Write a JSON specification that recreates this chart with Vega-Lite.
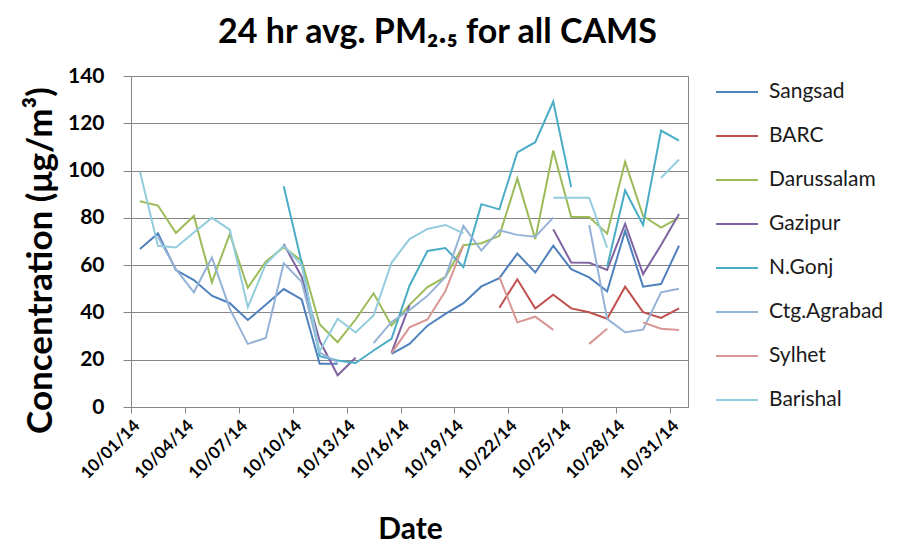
{
"$schema": "https://vega.github.io/schema/vega-lite/v6.json",
"width": 557, "height": 331,
"autosize": "none",
"padding": {"left": 131, "top": 76, "right": 211, "bottom": 150},
"background": "white",
"title": {"text": "24 hr avg. PM₂.₅ for all CAMS", "font": "Lato", "fontSize": 34, "fontWeight": "bold", "color": "#000000", "anchor": "middle", "dx": 28, "offset": 15},
"datasets": {
"pm": [
{"date":"2014-10-01","station":"Sangsad","pm":66.8},{"date":"2014-10-02","station":"Sangsad","pm":73.4},{"date":"2014-10-03","station":"Sangsad","pm":57.9},{"date":"2014-10-04","station":"Sangsad","pm":53.7},{"date":"2014-10-05","station":"Sangsad","pm":47.1},{"date":"2014-10-06","station":"Sangsad","pm":43.9},{"date":"2014-10-07","station":"Sangsad","pm":36.8},{"date":"2014-10-08","station":"Sangsad","pm":43.2},{"date":"2014-10-09","station":"Sangsad","pm":49.9},{"date":"2014-10-10","station":"Sangsad","pm":45.5},{"date":"2014-10-11","station":"Sangsad","pm":18.3},{"date":"2014-10-12","station":"Sangsad","pm":18.3},{"date":"2014-10-13","station":"Sangsad","pm":null},{"date":"2014-10-14","station":"Sangsad","pm":null},{"date":"2014-10-15","station":"Sangsad","pm":22.5},{"date":"2014-10-16","station":"Sangsad","pm":26.7},{"date":"2014-10-17","station":"Sangsad","pm":34.4},{"date":"2014-10-18","station":"Sangsad","pm":39.4},{"date":"2014-10-19","station":"Sangsad","pm":43.9},{"date":"2014-10-20","station":"Sangsad","pm":51},{"date":"2014-10-21","station":"Sangsad","pm":54.5},{"date":"2014-10-22","station":"Sangsad","pm":64.9},{"date":"2014-10-23","station":"Sangsad","pm":56.9},{"date":"2014-10-24","station":"Sangsad","pm":68.2},{"date":"2014-10-25","station":"Sangsad","pm":58.3},{"date":"2014-10-26","station":"Sangsad","pm":54.8},{"date":"2014-10-27","station":"Sangsad","pm":48.9},{"date":"2014-10-28","station":"Sangsad","pm":74.5},{"date":"2014-10-29","station":"Sangsad","pm":50.9},{"date":"2014-10-30","station":"Sangsad","pm":52},{"date":"2014-10-31","station":"Sangsad","pm":68.2},
{"date":"2014-10-01","station":"BARC","pm":null},{"date":"2014-10-02","station":"BARC","pm":null},{"date":"2014-10-03","station":"BARC","pm":null},{"date":"2014-10-04","station":"BARC","pm":null},{"date":"2014-10-05","station":"BARC","pm":null},{"date":"2014-10-06","station":"BARC","pm":null},{"date":"2014-10-07","station":"BARC","pm":null},{"date":"2014-10-08","station":"BARC","pm":null},{"date":"2014-10-09","station":"BARC","pm":null},{"date":"2014-10-10","station":"BARC","pm":null},{"date":"2014-10-11","station":"BARC","pm":null},{"date":"2014-10-12","station":"BARC","pm":null},{"date":"2014-10-13","station":"BARC","pm":null},{"date":"2014-10-14","station":"BARC","pm":null},{"date":"2014-10-15","station":"BARC","pm":null},{"date":"2014-10-16","station":"BARC","pm":null},{"date":"2014-10-17","station":"BARC","pm":null},{"date":"2014-10-18","station":"BARC","pm":null},{"date":"2014-10-19","station":"BARC","pm":null},{"date":"2014-10-20","station":"BARC","pm":null},{"date":"2014-10-21","station":"BARC","pm":42},{"date":"2014-10-22","station":"BARC","pm":54},{"date":"2014-10-23","station":"BARC","pm":41.6},{"date":"2014-10-24","station":"BARC","pm":47.5},{"date":"2014-10-25","station":"BARC","pm":41.7},{"date":"2014-10-26","station":"BARC","pm":40.1},{"date":"2014-10-27","station":"BARC","pm":37.3},{"date":"2014-10-28","station":"BARC","pm":50.9},{"date":"2014-10-29","station":"BARC","pm":40.1},{"date":"2014-10-30","station":"BARC","pm":37.7},{"date":"2014-10-31","station":"BARC","pm":41.7},
{"date":"2014-10-01","station":"Darussalam","pm":87},{"date":"2014-10-02","station":"Darussalam","pm":85.2},{"date":"2014-10-03","station":"Darussalam","pm":73.6},{"date":"2014-10-04","station":"Darussalam","pm":80.8},{"date":"2014-10-05","station":"Darussalam","pm":52.7},{"date":"2014-10-06","station":"Darussalam","pm":73.2},{"date":"2014-10-07","station":"Darussalam","pm":50.4},{"date":"2014-10-08","station":"Darussalam","pm":61.5},{"date":"2014-10-09","station":"Darussalam","pm":67.6},{"date":"2014-10-10","station":"Darussalam","pm":61.8},{"date":"2014-10-11","station":"Darussalam","pm":35},{"date":"2014-10-12","station":"Darussalam","pm":27.4},{"date":"2014-10-13","station":"Darussalam","pm":37},{"date":"2014-10-14","station":"Darussalam","pm":48.1},{"date":"2014-10-15","station":"Darussalam","pm":34.5},{"date":"2014-10-16","station":"Darussalam","pm":43.2},{"date":"2014-10-17","station":"Darussalam","pm":50.7},{"date":"2014-10-18","station":"Darussalam","pm":55},{"date":"2014-10-19","station":"Darussalam","pm":68.4},{"date":"2014-10-20","station":"Darussalam","pm":69.3},{"date":"2014-10-21","station":"Darussalam","pm":72.4},{"date":"2014-10-22","station":"Darussalam","pm":96.7},{"date":"2014-10-23","station":"Darussalam","pm":71},{"date":"2014-10-24","station":"Darussalam","pm":108.5},{"date":"2014-10-25","station":"Darussalam","pm":80.4},{"date":"2014-10-26","station":"Darussalam","pm":80.4},{"date":"2014-10-27","station":"Darussalam","pm":73.3},{"date":"2014-10-28","station":"Darussalam","pm":103.7},{"date":"2014-10-29","station":"Darussalam","pm":80.8},{"date":"2014-10-30","station":"Darussalam","pm":75.9},{"date":"2014-10-31","station":"Darussalam","pm":80.1},
{"date":"2014-10-01","station":"Gazipur","pm":null},{"date":"2014-10-02","station":"Gazipur","pm":null},{"date":"2014-10-03","station":"Gazipur","pm":null},{"date":"2014-10-04","station":"Gazipur","pm":null},{"date":"2014-10-05","station":"Gazipur","pm":null},{"date":"2014-10-06","station":"Gazipur","pm":null},{"date":"2014-10-07","station":"Gazipur","pm":null},{"date":"2014-10-08","station":"Gazipur","pm":null},{"date":"2014-10-09","station":"Gazipur","pm":69},{"date":"2014-10-10","station":"Gazipur","pm":55},{"date":"2014-10-11","station":"Gazipur","pm":28},{"date":"2014-10-12","station":"Gazipur","pm":13.4},{"date":"2014-10-13","station":"Gazipur","pm":20.8},{"date":"2014-10-14","station":"Gazipur","pm":null},{"date":"2014-10-15","station":"Gazipur","pm":23},{"date":"2014-10-16","station":"Gazipur","pm":43},{"date":"2014-10-17","station":"Gazipur","pm":null},{"date":"2014-10-18","station":"Gazipur","pm":null},{"date":"2014-10-19","station":"Gazipur","pm":null},{"date":"2014-10-20","station":"Gazipur","pm":null},{"date":"2014-10-21","station":"Gazipur","pm":null},{"date":"2014-10-22","station":"Gazipur","pm":null},{"date":"2014-10-23","station":"Gazipur","pm":null},{"date":"2014-10-24","station":"Gazipur","pm":75.2},{"date":"2014-10-25","station":"Gazipur","pm":61.1},{"date":"2014-10-26","station":"Gazipur","pm":61},{"date":"2014-10-27","station":"Gazipur","pm":58},{"date":"2014-10-28","station":"Gazipur","pm":77.5},{"date":"2014-10-29","station":"Gazipur","pm":56.2},{"date":"2014-10-30","station":"Gazipur","pm":68.5},{"date":"2014-10-31","station":"Gazipur","pm":81.6},
{"date":"2014-10-01","station":"N.Gonj","pm":null},{"date":"2014-10-02","station":"N.Gonj","pm":null},{"date":"2014-10-03","station":"N.Gonj","pm":null},{"date":"2014-10-04","station":"N.Gonj","pm":null},{"date":"2014-10-05","station":"N.Gonj","pm":null},{"date":"2014-10-06","station":"N.Gonj","pm":null},{"date":"2014-10-07","station":"N.Gonj","pm":null},{"date":"2014-10-08","station":"N.Gonj","pm":null},{"date":"2014-10-09","station":"N.Gonj","pm":93.4},{"date":"2014-10-10","station":"N.Gonj","pm":61},{"date":"2014-10-11","station":"N.Gonj","pm":21.5},{"date":"2014-10-12","station":"N.Gonj","pm":19.7},{"date":"2014-10-13","station":"N.Gonj","pm":18.6},{"date":"2014-10-14","station":"N.Gonj","pm":23.9},{"date":"2014-10-15","station":"N.Gonj","pm":28.8},{"date":"2014-10-16","station":"N.Gonj","pm":51.3},{"date":"2014-10-17","station":"N.Gonj","pm":66},{"date":"2014-10-18","station":"N.Gonj","pm":67.2},{"date":"2014-10-19","station":"N.Gonj","pm":59.2},{"date":"2014-10-20","station":"N.Gonj","pm":85.8},{"date":"2014-10-21","station":"N.Gonj","pm":83.6},{"date":"2014-10-22","station":"N.Gonj","pm":107.7},{"date":"2014-10-23","station":"N.Gonj","pm":112},{"date":"2014-10-24","station":"N.Gonj","pm":129.2},{"date":"2014-10-25","station":"N.Gonj","pm":93},{"date":"2014-10-26","station":"N.Gonj","pm":null},{"date":"2014-10-27","station":"N.Gonj","pm":59.3},{"date":"2014-10-28","station":"N.Gonj","pm":91.6},{"date":"2014-10-29","station":"N.Gonj","pm":77},{"date":"2014-10-30","station":"N.Gonj","pm":116.9},{"date":"2014-10-31","station":"N.Gonj","pm":112.7},
{"date":"2014-10-01","station":"Ctg.Agrabad","pm":null},{"date":"2014-10-02","station":"Ctg.Agrabad","pm":72},{"date":"2014-10-03","station":"Ctg.Agrabad","pm":58.3},{"date":"2014-10-04","station":"Ctg.Agrabad","pm":48.5},{"date":"2014-10-05","station":"Ctg.Agrabad","pm":63.2},{"date":"2014-10-06","station":"Ctg.Agrabad","pm":41.5},{"date":"2014-10-07","station":"Ctg.Agrabad","pm":26.7},{"date":"2014-10-08","station":"Ctg.Agrabad","pm":29.2},{"date":"2014-10-09","station":"Ctg.Agrabad","pm":60.8},{"date":"2014-10-10","station":"Ctg.Agrabad","pm":53},{"date":"2014-10-11","station":"Ctg.Agrabad","pm":23},{"date":"2014-10-12","station":"Ctg.Agrabad","pm":19},{"date":"2014-10-13","station":"Ctg.Agrabad","pm":null},{"date":"2014-10-14","station":"Ctg.Agrabad","pm":27},{"date":"2014-10-15","station":"Ctg.Agrabad","pm":36},{"date":"2014-10-16","station":"Ctg.Agrabad","pm":41},{"date":"2014-10-17","station":"Ctg.Agrabad","pm":47},{"date":"2014-10-18","station":"Ctg.Agrabad","pm":55},{"date":"2014-10-19","station":"Ctg.Agrabad","pm":76.6},{"date":"2014-10-20","station":"Ctg.Agrabad","pm":66.2},{"date":"2014-10-21","station":"Ctg.Agrabad","pm":74.7},{"date":"2014-10-22","station":"Ctg.Agrabad","pm":72.8},{"date":"2014-10-23","station":"Ctg.Agrabad","pm":72},{"date":"2014-10-24","station":"Ctg.Agrabad","pm":80.1},{"date":"2014-10-25","station":"Ctg.Agrabad","pm":null},{"date":"2014-10-26","station":"Ctg.Agrabad","pm":77},{"date":"2014-10-27","station":"Ctg.Agrabad","pm":37.3},{"date":"2014-10-28","station":"Ctg.Agrabad","pm":31.6},{"date":"2014-10-29","station":"Ctg.Agrabad","pm":32.7},{"date":"2014-10-30","station":"Ctg.Agrabad","pm":48.5},{"date":"2014-10-31","station":"Ctg.Agrabad","pm":50},
{"date":"2014-10-01","station":"Sylhet","pm":null},{"date":"2014-10-02","station":"Sylhet","pm":null},{"date":"2014-10-03","station":"Sylhet","pm":null},{"date":"2014-10-04","station":"Sylhet","pm":null},{"date":"2014-10-05","station":"Sylhet","pm":null},{"date":"2014-10-06","station":"Sylhet","pm":null},{"date":"2014-10-07","station":"Sylhet","pm":null},{"date":"2014-10-08","station":"Sylhet","pm":null},{"date":"2014-10-09","station":"Sylhet","pm":null},{"date":"2014-10-10","station":"Sylhet","pm":null},{"date":"2014-10-11","station":"Sylhet","pm":null},{"date":"2014-10-12","station":"Sylhet","pm":null},{"date":"2014-10-13","station":"Sylhet","pm":null},{"date":"2014-10-14","station":"Sylhet","pm":null},{"date":"2014-10-15","station":"Sylhet","pm":22.8},{"date":"2014-10-16","station":"Sylhet","pm":33.7},{"date":"2014-10-17","station":"Sylhet","pm":37},{"date":"2014-10-18","station":"Sylhet","pm":49},{"date":"2014-10-19","station":"Sylhet","pm":68.4},{"date":"2014-10-20","station":"Sylhet","pm":null},{"date":"2014-10-21","station":"Sylhet","pm":55},{"date":"2014-10-22","station":"Sylhet","pm":35.8},{"date":"2014-10-23","station":"Sylhet","pm":38.2},{"date":"2014-10-24","station":"Sylhet","pm":32.6},{"date":"2014-10-25","station":"Sylhet","pm":null},{"date":"2014-10-26","station":"Sylhet","pm":26.7},{"date":"2014-10-27","station":"Sylhet","pm":33.1},{"date":"2014-10-28","station":"Sylhet","pm":null},{"date":"2014-10-29","station":"Sylhet","pm":35.8},{"date":"2014-10-30","station":"Sylhet","pm":33.1},{"date":"2014-10-31","station":"Sylhet","pm":32.6},
{"date":"2014-10-01","station":"Barishal","pm":99.5},{"date":"2014-10-02","station":"Barishal","pm":68.2},{"date":"2014-10-03","station":"Barishal","pm":67.5},{"date":"2014-10-04","station":"Barishal","pm":73.8},{"date":"2014-10-05","station":"Barishal","pm":80},{"date":"2014-10-06","station":"Barishal","pm":75},{"date":"2014-10-07","station":"Barishal","pm":42.2},{"date":"2014-10-08","station":"Barishal","pm":60.4},{"date":"2014-10-09","station":"Barishal","pm":68.2},{"date":"2014-10-10","station":"Barishal","pm":60},{"date":"2014-10-11","station":"Barishal","pm":23.5},{"date":"2014-10-12","station":"Barishal","pm":37.3},{"date":"2014-10-13","station":"Barishal","pm":31.5},{"date":"2014-10-14","station":"Barishal","pm":38.7},{"date":"2014-10-15","station":"Barishal","pm":61},{"date":"2014-10-16","station":"Barishal","pm":71},{"date":"2014-10-17","station":"Barishal","pm":75.3},{"date":"2014-10-18","station":"Barishal","pm":77},{"date":"2014-10-19","station":"Barishal","pm":73.5},{"date":"2014-10-20","station":"Barishal","pm":null},{"date":"2014-10-21","station":"Barishal","pm":null},{"date":"2014-10-22","station":"Barishal","pm":null},{"date":"2014-10-23","station":"Barishal","pm":null},{"date":"2014-10-24","station":"Barishal","pm":88.5},{"date":"2014-10-25","station":"Barishal","pm":88.5},{"date":"2014-10-26","station":"Barishal","pm":88.5},{"date":"2014-10-27","station":"Barishal","pm":67.4},{"date":"2014-10-28","station":"Barishal","pm":null},{"date":"2014-10-29","station":"Barishal","pm":null},{"date":"2014-10-30","station":"Barishal","pm":96.9},{"date":"2014-10-31","station":"Barishal","pm":104.7}
]
},
"data": {"name": "pm"},
"mark": {"type": "line", "strokeWidth": 2},
"encoding": {
  "x": {
    "field": "date", "type": "temporal", "timeUnit": "utcyearmonthdate", "bandPosition": 0.5,
    "scale": {"domain": [{"year": 2014, "month": 10, "date": 1, "utc": true}, {"year": 2014, "month": 11, "date": 1, "utc": true}]},
    "axis": {
      "values": [{"year": 2014, "month": 10, "date": 1, "utc": true}, {"year": 2014, "month": 10, "date": 4, "utc": true}, {"year": 2014, "month": 10, "date": 7, "utc": true}, {"year": 2014, "month": 10, "date": 10, "utc": true}, {"year": 2014, "month": 10, "date": 13, "utc": true}, {"year": 2014, "month": 10, "date": 16, "utc": true}, {"year": 2014, "month": 10, "date": 19, "utc": true}, {"year": 2014, "month": 10, "date": 22, "utc": true}, {"year": 2014, "month": 10, "date": 25, "utc": true}, {"year": 2014, "month": 10, "date": 28, "utc": true}, {"year": 2014, "month": 10, "date": 31, "utc": true}],
      "format": "%m/%d/%y",
      "labelAngle": -45, "labelOverlap": false,
      "labelFont": "Lato", "labelFontSize": 17, "labelFontWeight": "bold", "labelColor": "#000000",
      "labelPadding": 4,
      "grid": false,
      "tickSize": 6, "tickColor": "#868686", "domainColor": "#868686",
      "title": "Date", "titleFont": "Lato", "titleFontSize": 30, "titleFontWeight": "bold", "titleColor": "#000000",
      "titleX": 279, "titleY": 131, "titleBaseline": "alphabetic", "titleAlign": "center"
    }
  },
  "y": {
    "field": "pm", "type": "quantitative",
    "scale": {"domain": [0, 140]},
    "axis": {
      "values": [0, 20, 40, 60, 80, 100, 120, 140],
      "labelFont": "Lato", "labelFontSize": 21, "labelFontWeight": "bold", "labelColor": "#000000",
      "labelPadding": 19, "tickSize": 8, "tickColor": "#868686", "domainColor": "#868686",
      "grid": true, "gridColor": "#868686", "gridWidth": 1,
      "title": "Concentration (μg/m³)", "titleFont": "Lato", "titleFontSize": 35, "titleFontWeight": "bold", "titleColor": "#000000",
      "titleAngle": -90, "titleX": -91, "titleY": 184, "titleAlign": "center", "titleBaseline": "middle"
    }
  },
  "color": {
    "field": "station", "type": "nominal",
    "scale": {
      "domain": ["Sangsad", "BARC", "Darussalam", "Gazipur", "N.Gonj", "Ctg.Agrabad", "Sylhet", "Barishal"],
      "range": ["#4F81BD", "#C0504D", "#9BBB59", "#8064A2", "#4BACC6", "#95B3D7", "#D99694", "#93CDDD"]
    },
    "legend": {
      "title": null, "orient": "none", "legendX": 584, "legendY": -6,
      "symbolType": "stroke", "symbolSize": 1764, "symbolStrokeWidth": 2,
      "labelFont": "Lato", "labelFontSize": 21, "labelColor": "#1a1a1a", "labelOffset": 10,
      "rowPadding": 12, "padding": 0
    }
  }
},
"config": {
  "view": {"stroke": "#868686", "strokeWidth": 1},
  "axis": {"domainWidth": 1, "tickWidth": 1}
}
}
